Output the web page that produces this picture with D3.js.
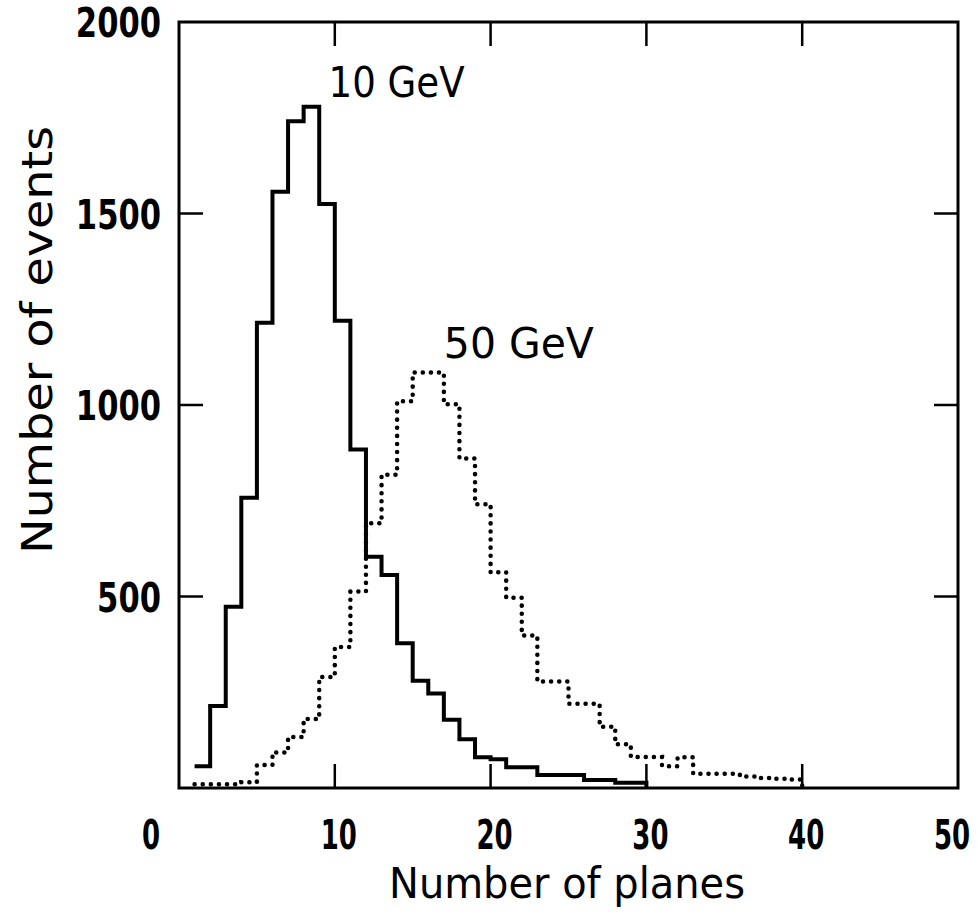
<!DOCTYPE html>
<html>
<head>
<meta charset="utf-8">
<script src="https://cdn.jsdelivr.net/npm/d3@7/dist/d3.min.js"></script>
<style>
  html, body { margin: 0; padding: 0; background: #fff; }
  svg { display: block; }
</style>
</head>
<body>
<svg id="chart" width="977" height="920"></svg>
<script>
// ---- data ----
const xTicks = [0, 10, 20, 30, 40, 50];
const yTicks = [500, 1000, 1500, 2000];
const innerXTicks = [10, 20, 30, 40];
const innerYTicks = [500, 1000, 1500];

// 10 GeV (solid): bin lower edges and counts (bin width = 1 plane)
const bins10 = [1, 2, 3, 4, 5, 6, 7, 8, 9, 10, 11, 12, 13, 14, 15, 16, 17, 18, 19, 20, 21, 22, 23, 24, 25, 26, 27, 28, 29];
const counts10 = [57, 214, 473, 758, 1215, 1557, 1741, 1779, 1525, 1220, 884, 604, 556, 378, 280, 247, 178, 127, 80, 75, 54, 54, 34, 34, 34, 21, 21, 14, 14];

// 50 GeV (dotted)
const bins50 = [1, 2, 3, 4, 5, 6, 7, 8, 9, 10, 11, 12, 13, 14, 15, 16, 17, 18, 19, 20, 21, 22, 23, 24, 25, 26, 27, 28, 29, 30, 31, 32, 33, 34, 35, 36, 37, 38, 39];
const counts50 = [10, 10, 10, 15, 60, 93, 133, 180, 290, 368, 513, 691, 818, 1010, 1085, 1085, 1002, 860, 741, 563, 497, 398, 278, 278, 220, 220, 160, 114, 81, 81, 57, 80, 37, 37, 37, 30, 26, 24, 22];

const labels = [
  { text: "10 GeV", x: 9.6, baseline: 97, len: 136 },
  { text: "50 GeV", x: 17.0, baseline: 358, len: 150 }
];
const xTitle = "Number of planes";
const yTitle = "Number of events";

// ---- scales ----
const svg = d3.select("#chart");
const x = d3.scaleLinear().domain([0, 50]).range([179, 958]);
const y = d3.scaleLinear().domain([0, 2000]).range([788, 22]);

// ---- frame ----
svg.append("rect")
  .attr("x", x(0)).attr("y", y(2000))
  .attr("width", x(50) - x(0)).attr("height", y(0) - y(2000))
  .attr("fill", "none").attr("stroke", "#000").attr("stroke-width", 3);

const tickLen = 24;
const g = svg.append("g").attr("stroke", "#000").attr("stroke-width", 2.5);
innerXTicks.forEach(t => {
  g.append("line").attr("x1", x(t)).attr("x2", x(t)).attr("y1", y(0)).attr("y2", y(0) - tickLen);
  g.append("line").attr("x1", x(t)).attr("x2", x(t)).attr("y1", y(2000)).attr("y2", y(2000) + tickLen);
});
innerYTicks.forEach(t => {
  g.append("line").attr("x1", x(0)).attr("x2", x(0) + tickLen).attr("y1", y(t)).attr("y2", y(t));
  g.append("line").attr("x1", x(50)).attr("x2", x(50) - tickLen).attr("y1", y(t)).attr("y2", y(t));
});

// ---- tick labels (condensed by a horizontal scale) ----
const tickFont = "'DejaVu Sans', sans-serif";
svg.append("g").selectAll("text").data(xTicks).join("text")
  .attr("transform", d => {
    const cx = d === 0 ? 151 : (d === 50 ? 952 : x(d) + 4);
    return `translate(${cx},849) scale(0.65,1)`;
  })
  .attr("text-anchor", "middle")
  .attr("font-family", tickFont).attr("font-weight", "bold")
  .attr("font-size", 40)
  .text(d => d);

svg.append("g").selectAll("text").data(yTicks).join("text")
  .attr("transform", d => `translate(161,${y(d) + 15}) scale(0.765,1)`)
  .attr("text-anchor", "end")
  .attr("font-family", tickFont).attr("font-weight", "bold")
  .attr("font-size", 40)
  .text(d => d);

// ---- histograms ----
function histPoints(bins, counts) {
  const pts = bins.map((b, i) => [b, counts[i]]);
  const lastEdge = bins[bins.length - 1] + 1;
  pts.push([lastEdge, counts[counts.length - 1]]);
  pts.push([lastEdge, 0]);
  return pts;
}
const line = d3.line().x(d => x(d[0])).y(d => y(d[1])).curve(d3.curveStepAfter);

svg.append("path")
  .attr("d", line(histPoints(bins50, counts50)))
  .attr("fill", "none").attr("stroke", "#000")
  .attr("stroke-width", 4.5)
  .attr("stroke-linecap", "round")
  .attr("stroke-dasharray", "0.1 8");

svg.append("path")
  .attr("d", line(histPoints(bins10, counts10)))
  .attr("fill", "none").attr("stroke", "#000")
  .attr("stroke-width", 4)
  .attr("stroke-linejoin", "miter");

// ---- curve labels ----
svg.append("g").selectAll("text").data(labels).join("text")
  .attr("x", d => x(d.x))
  .attr("y", d => d.baseline)
  .attr("font-family", "'DejaVu Sans', sans-serif")
  .attr("font-size", 43)
  .attr("textLength", d => d.len).attr("lengthAdjust", "spacingAndGlyphs")
  .text(d => d.text);

// ---- axis titles ----
svg.append("text")
  .attr("x", 567).attr("y", 898)
  .attr("text-anchor", "middle")
  .attr("font-family", "'DejaVu Sans', sans-serif")
  .attr("font-size", 42)
  .attr("textLength", 356).attr("lengthAdjust", "spacingAndGlyphs")
  .text(xTitle);

svg.append("text")
  .attr("transform", "translate(52,340) rotate(-90)")
  .attr("text-anchor", "middle")
  .attr("font-family", "'DejaVu Sans', sans-serif")
  .attr("font-size", 42)
  .attr("textLength", 428).attr("lengthAdjust", "spacingAndGlyphs")
  .text(yTitle);
</script>
</body>
</html>
